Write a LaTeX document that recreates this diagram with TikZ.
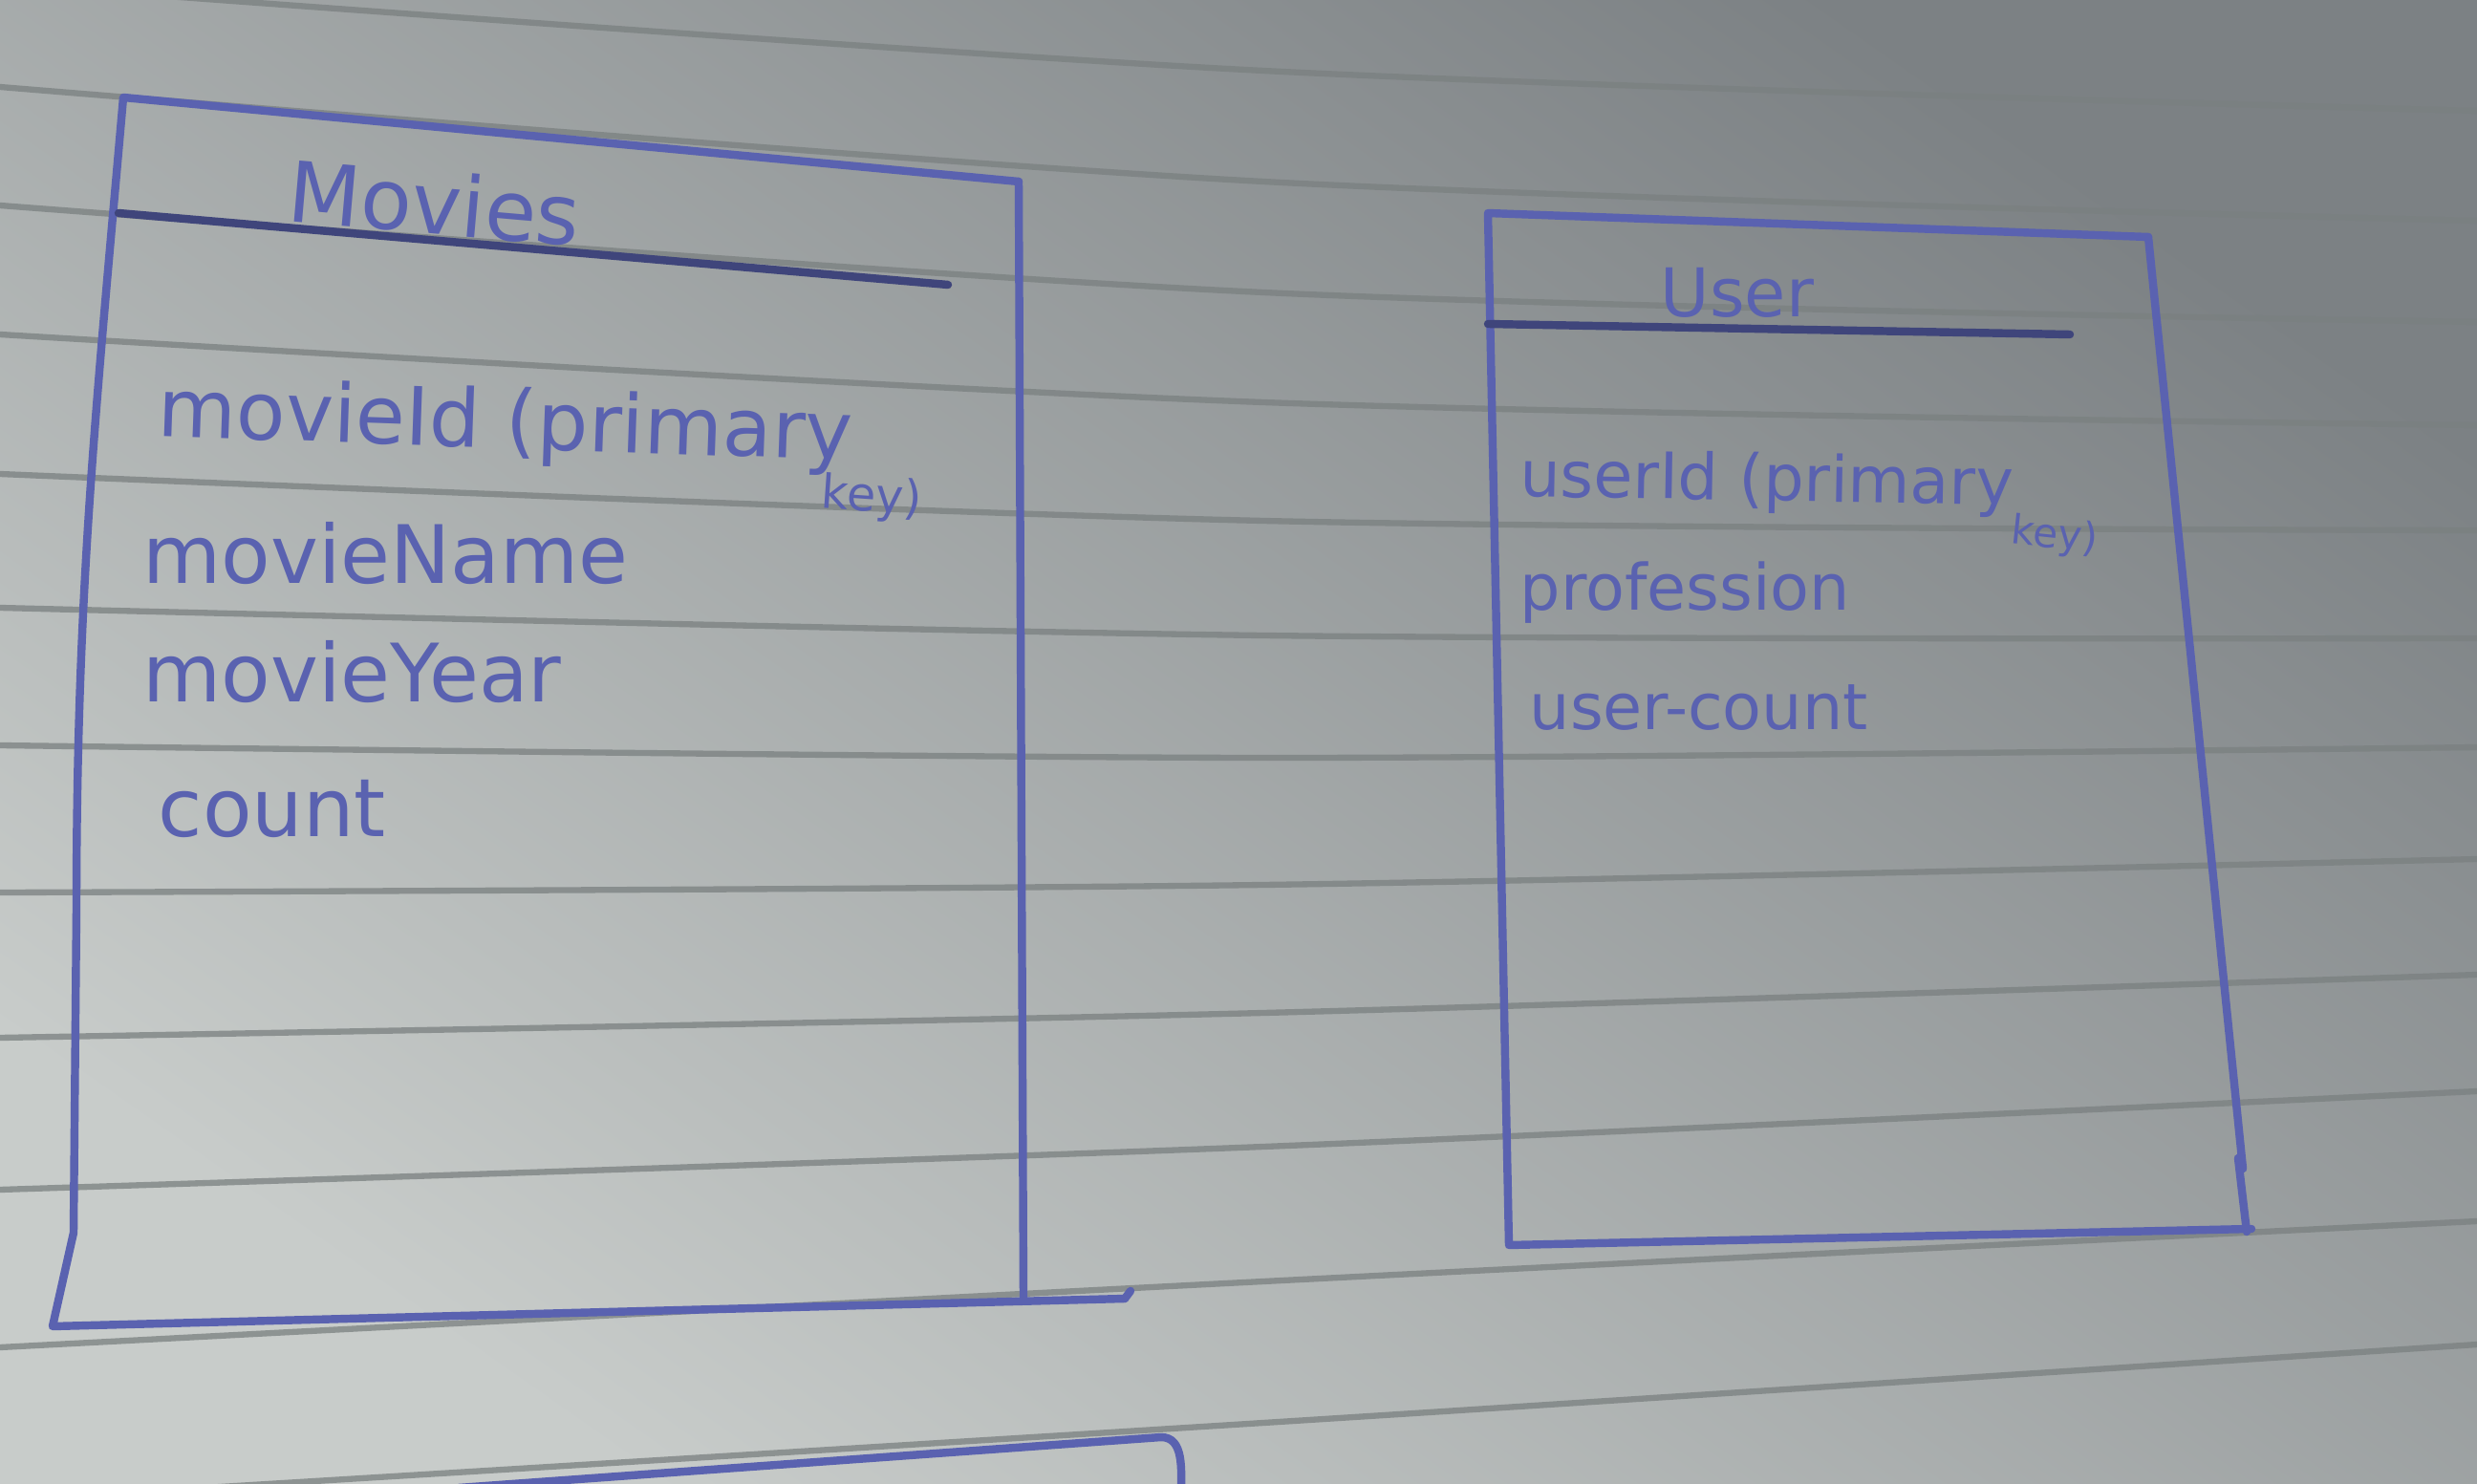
\documentclass[tikz,border=0pt]{standalone}
\usepackage{fontspec}
\setmainfont{DejaVu Sans}
\usetikzlibrary{positioning}
\definecolor{mink}{HTML}{5A62B0}
\definecolor{mrule}{HTML}{7A8080}
\definecolor{mpaperl}{HTML}{C8CCCA}
\definecolor{mpaperd}{HTML}{7C8184}
\tikzstyle{pen} = [mink, line width=2.4pt, line cap=round, line join=round]
\tikzstyle{headline} = [pen, draw=mink!70!black]
\tikzstyle{ruled} = [mrule, line width=1.8pt, opacity=0.75]
\tikzstyle{title} = [text=mink, font=\fontsize{25}{30}\selectfont, inner sep=0pt]
\tikzstyle{field} = [text=mink, font=\fontsize{24}{29}\selectfont, anchor=west, inner sep=0pt]
\tikzstyle{ufield} = [field, font=\fontsize{19}{23}\selectfont]
\tikzstyle{keynote} = [text=mink, font=\fontsize{14}{17}\selectfont, inner sep=0pt]

\begin{document}
\begin{tikzpicture}
  \shade[top color=mpaperd, bottom color=mpaperl, shading angle=-35] (0,0) rectangle (25.92,15.52);
  \useasboundingbox (0,0) rectangle (25.92,15.52);
  \begin{scope}
    \clip (0,0) rectangle (25.92,15.52);
    % notebook lines
    \draw[ruled] plot[smooth] coordinates {(0,15.69) (13.22,14.78) (25.92,14.36)};
    \draw[ruled] plot[smooth] coordinates {(0,14.61) (13.22,13.62) (25.92,13.21)};
    \draw[ruled] plot[smooth] coordinates {(0,13.37) (13.22,12.46) (25.92,12.15)};
    \draw[ruled] plot[smooth] coordinates {(0,12.02) (13.22,11.31) (25.92,11.07)};
    \draw[ruled] plot[smooth] coordinates {(0,10.56) (13.22,10.07) (25.92,9.97)};
    \draw[ruled] plot[smooth] coordinates {(0,9.16) (13.22,8.87) (25.92,8.84)};
    \draw[ruled] plot[smooth] coordinates {(0,7.72) (13.22,7.59) (25.92,7.70)};
    \draw[ruled] plot[smooth] coordinates {(0,6.18) (13.22,6.26) (25.92,6.53)};
    \draw[ruled] plot[smooth] coordinates {(0,4.66) (13.22,4.92) (25.92,5.32)};
    \draw[ruled] plot[smooth] coordinates {(0,3.07) (13.22,3.52) (25.92,4.10)};
    \draw[ruled] plot[smooth] coordinates {(0,1.42) (13.22,2.11) (25.92,2.74)};
    \draw[ruled] plot[smooth] coordinates {(0,-0.18) (13.22,0.63) (25.92,1.45)};
    % box started at the bottom of the page
    \coordinate (nextl) at (4.8,-0.05);
    \coordinate (nextr) at (12.36,-0.1);
    \draw[pen] (nextl) -- (12.15,0.48) to[out=0,in=90] (nextr);
  \end{scope}

  % Movies table
  \coordinate (mtl) at (1.29,14.50);
  \coordinate (mtr) at (10.66,13.62);
  \coordinate (mbr) at (10.71,1.93);
  \coordinate (mbl) at (0.55,1.64);
  \coordinate (mend) at (11.77,1.93);
  \coordinate (mhl) at (1.24,13.29);
  \coordinate (mhr) at (9.92,12.54);
  \draw[pen] (mend) -- ++(0.06,0.08);
  \draw[pen] (mtr) -- (mtl) to[out=-95,in=90] (0.80,6.0) -- (0.77,2.62) -- (mbl) -- (mend);
  \draw[pen] (mtr) -- (mbr);
  \draw[headline] (mhl) -- (mhr);
  \node (movies) [title, rotate=-5] at (4.55,13.40) {Movies};
  \node (mid) [field, rotate=-2] at (1.65,11.19) {movieId (primary};
  \node (mkey) [keynote, rotate=-4] at (9.12,10.30) {key)};
  \node (mname) [field, below=1.46cm of mid.west, anchor=west, xshift=-0.16cm] {movieName};
  \node (myear) [field, below=1.24cm of mname.west, anchor=west] {movieYear};
  \node (mcount) [field, below=1.43cm of myear.west, anchor=west, xshift=0.16cm] {count};

  % User table
  \coordinate (utl) at (15.57,13.29);
  \coordinate (utr) at (22.48,13.04);
  \coordinate (ubr) at (23.56,2.66);
  \coordinate (ubl) at (15.79,2.49);
  \coordinate (uhl) at (15.57,12.13);
  \coordinate (uhr) at (21.66,12.02);
  \draw[pen] (utr) -- (utl) -- (ubl) -- (ubr);
  \draw[pen] (utr) -- (23.47,3.29) -- (23.42,3.40) -- (23.51,2.63);
  \draw[headline] (uhl) -- (uhr);
  \node (user) [title, font=\fontsize{20}{24}\selectfont] at (18.18,12.46) {User};
  \node (uid) [ufield, rotate=-1] at (15.90,10.51) {userId (primary};
  \node (ukey) [keynote, font=\fontsize{12}{14}\selectfont, rotate=-6] at (21.50,9.90) {key)};
  \node (uprof) [ufield, below=1.19cm of uid.west, anchor=west] {profession};
  \node (ucount) [ufield, below=1.21cm of uprof.west, anchor=west, xshift=0.1cm] {user-count};
\end{tikzpicture}
\end{document}
